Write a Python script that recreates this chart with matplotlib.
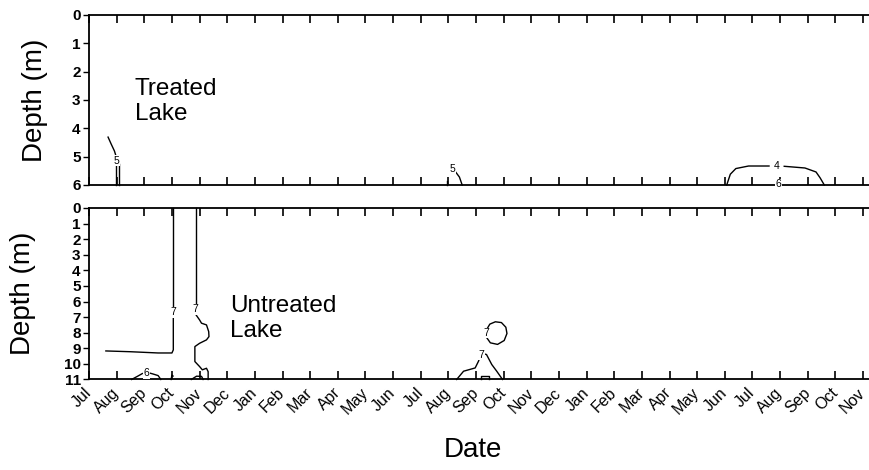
import numpy as np
import matplotlib.pyplot as plt

plt.rcParams['font.family'] = ['Liberation Sans', 'DejaVu Sans']

""" Axis setup: x is months since 1 Jul of first year """

monthLabels = ['Jul', 'Aug', 'Sep', 'Oct', 'Nov', 'Dec', 'Jan', 'Feb', 'Mar', 'Apr', 'May', 'Jun',
               'Jul', 'Aug', 'Sep', 'Oct', 'Nov', 'Dec', 'Jan', 'Feb', 'Mar', 'Apr', 'May', 'Jun',
               'Jul', 'Aug', 'Sep', 'Oct', 'Nov']
treatedDepths = [0, 1, 2, 3, 4, 5, 6]
untreatedDepths = [0, 1, 2, 3, 4, 5, 6, 7, 8, 9, 10, 11]

""" Treated lake isolines (month, depth) """

tr1_x = [0.69, 0.80, 0.92, 0.99]
tr1_d = [4.31, 4.55, 4.80, 5.02]
tr2_x = [0.98, 0.98]
tr2_d = [5.30, 6.00]
tr3_x = [1.10, 1.10]
tr3_d = [5.25, 6.00]
tr4_x = [13.27, 13.40, 13.50]
tr4_d = [5.55, 5.72, 6.00]
tr5_x = [12.95, 12.95]
tr5_d = [5.85, 6.00]
tr6_x = [23.07, 23.20, 23.40, 23.86, 24.60]
tr6_d = [6.00, 5.62, 5.42, 5.33, 5.33]
tr7_x = [25.15, 25.90, 26.30, 26.45, 26.60]
tr7_d = [5.34, 5.40, 5.54, 5.75, 6.00]
trLabels = [(1.00, 5.15, '5'), (13.15, 5.45, '5'), (24.88, 5.33, '4'), (24.95, 5.98, '6')]

""" Untreated lake isolines (month, depth) """

un1_x = [0.61, 1.50, 2.50, 3.00, 3.05, 3.05]
un1_d = [9.17, 9.22, 9.30, 9.30, 9.10, 6.95]
un2_x = [3.05, 3.05]
un2_d = [0.00, 6.45]
un3_x = [3.86, 3.86]
un3_d = [0.00, 6.25]
un4_x = [3.83, 4.00, 4.07, 4.25, 4.33, 4.34, 4.25, 4.00, 3.83, 3.83, 3.83, 4.00, 4.10, 4.25, 4.31, 4.31]
un4_d = [6.75, 7.18, 7.39, 7.50, 7.93, 8.25, 8.46, 8.68, 8.89, 9.32, 9.85, 10.17, 10.38, 10.28, 10.50, 11.00]
un5_x = [1.54, 1.75, 1.93]
un5_d = [11.00, 10.80, 10.62]
un6_x = [2.22, 2.32, 2.50, 2.56, 2.60]
un6_d = [10.60, 10.65, 10.75, 10.90, 11.00]
un7_x = [2.97, 3.00, 3.04]
un7_d = [11.00, 10.72, 10.78]
un8_x = [3.70, 3.89, 4.07, 4.13]
un8_d = [11.00, 10.79, 10.80, 11.00]
un9_x = [13.30, 13.55, 13.97, 14.09, 14.15]
un9_d = [11.00, 10.47, 10.26, 9.83, 9.55]
un10_x = [14.28, 14.38, 14.57, 14.75, 14.96]
un10_d = [9.35, 9.40, 10.04, 10.47, 11.00]
un11_x = [14.18, 14.18, 14.48, 14.48]
un11_d = [11.00, 10.76, 10.76, 11.00]
un12_x = [14.40, 14.50, 14.70, 14.92, 15.08, 15.12, 15.02, 14.78, 14.52, 14.38]
un12_d = [7.75, 7.45, 7.30, 7.35, 7.65, 8.05, 8.50, 8.75, 8.65, 8.30]
unLabels = [(3.05, 6.70, '7'), (3.86, 6.50, '7'), (2.08, 10.60, '6'), (14.20, 9.40, '7'), (14.36, 8.02, '7')]

lineKw = dict(color='black', linewidth=1.0)
labelKw = dict(fontsize=7.5, ha='center', va='center',
               bbox=dict(facecolor='white', edgecolor='none', pad=0.3))

fig = plt.figure(figsize=(8.7, 4.7), dpi=100)
axTop = fig.add_axes([0.1023, 0.6064, 0.8976, 0.3617])
axBot = fig.add_axes([0.1023, 0.1926, 0.8976, 0.3649])

for ax in (axTop, axBot):
    ax.set_xlim(0, 28.25)
    ax.set_xticks(np.arange(len(monthLabels)))
    ax.tick_params(axis='x', direction='in', top=True, bottom=True, length=6, width=1.2)
    ax.tick_params(axis='y', direction='out', length=4, width=1.0, pad=2)
    ax.spines['right'].set_visible(False)
    for s in ('left', 'top', 'bottom'):
        ax.spines[s].set_linewidth(1.3)

axTop.set_ylim(6, 0)
axTop.set_yticks(treatedDepths)
axTop.set_yticklabels([str(v) for v in treatedDepths], fontsize=11, fontweight='bold')
axTop.set_xticklabels([])

axBot.set_ylim(11, 0)
axBot.set_yticks(untreatedDepths)
axBot.set_yticklabels([str(v) for v in untreatedDepths], fontsize=11, fontweight='bold')
axBot.set_xticklabels(monthLabels, rotation=45, ha='right', va='center',
                      rotation_mode='anchor', fontsize=11.5)
axBot.tick_params(axis='x', pad=8)

for xs, ds in [(tr1_x, tr1_d), (tr2_x, tr2_d), (tr3_x, tr3_d), (tr4_x, tr4_d),
               (tr5_x, tr5_d), (tr6_x, tr6_d), (tr7_x, tr7_d)]:
    axTop.plot(xs, ds, clip_on=False, **lineKw)
for xl, dl, txt in trLabels:
    axTop.text(xl, dl, txt, **labelKw)

for xs, ds in [(un1_x, un1_d), (un2_x, un2_d), (un3_x, un3_d), (un4_x, un4_d),
               (un5_x, un5_d), (un6_x, un6_d), (un7_x, un7_d), (un8_x, un8_d),
               (un9_x, un9_d), (un10_x, un10_d), (un11_x, un11_d), (un12_x, un12_d)]:
    axBot.plot(xs, ds, clip_on=False, **lineKw)
for xl, dl, txt in unLabels:
    axBot.text(xl, dl, txt, **labelKw)

axTop.text(1.65, 3.05, 'Treated\nLake', fontsize=17.5, linespacing=1.2, va='center', ha='left')
axBot.text(5.1, 7.1, 'Untreated\nLake', fontsize=17.5, linespacing=1.2, va='center', ha='left')

fig.text(0.040, 0.787, 'Depth (m)', rotation=90, fontsize=20, ha='center', va='center')
fig.text(0.026, 0.376, 'Depth (m)', rotation=90, fontsize=20, ha='center', va='center')
fig.text(0.544, 0.043, 'Date', fontsize=20, ha='center', va='center')

plt.savefig('out.png', dpi=100)
